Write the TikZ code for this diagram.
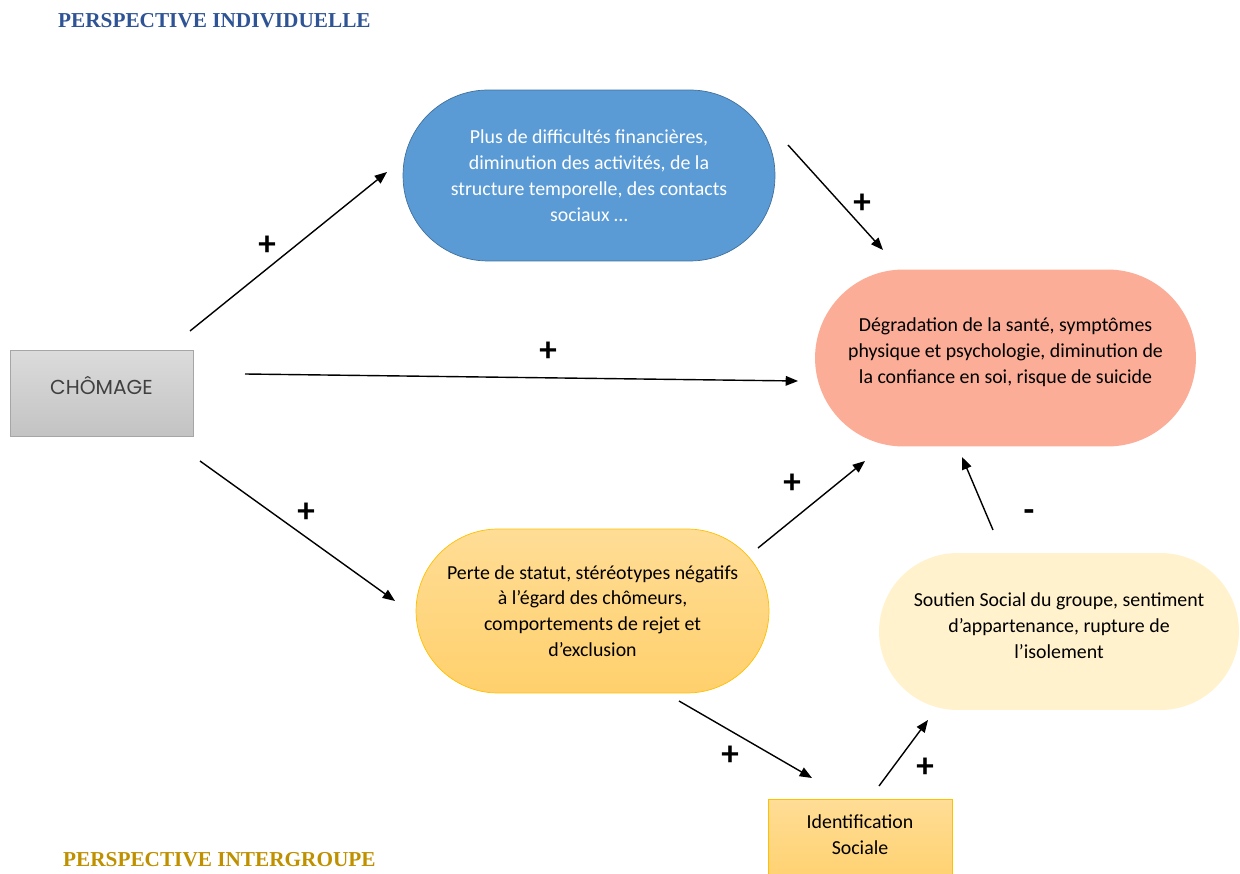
\documentclass[tikz,border=0pt]{standalone}
\usepackage{fontspec}
\setmainfont{Carlito}
\newfontfamily\titlefont{Liberation Serif}
\newfontfamily\boxfont{Poppins}
\usetikzlibrary{arrows.meta}
\definecolor{bleuind}{HTML}{2F5496}
\definecolor{orint}{HTML}{BF9000}
\definecolor{bluefill}{HTML}{5B9BD5}
\definecolor{blueline}{HTML}{41719C}
\definecolor{salmon}{HTML}{FBAD97}
\definecolor{orangetop}{HTML}{FFDD96}
\definecolor{orangebot}{HTML}{FFD06C}
\definecolor{orangeline}{HTML}{FFC000}
\definecolor{creme}{HTML}{FFF2CC}
\begin{document}
\begin{tikzpicture}[x=0.02cm,y=-0.02cm,
    fleche/.style={-{Triangle[length=7pt,width=5.5pt]}, line width=0.8pt},
    signe/.style={font=\bfseries\fontsize{20}{24}\selectfont},
    pilule/.style={align=center, font=\fontsize{11.3}{14.7}\selectfont}]
    \useasboundingbox (0,0) rectangle (1240,874);

    \node[anchor=west, text=bleuind, font=\titlefont\bfseries\fontsize{12.1}{14}\selectfont] (titreind) at (52,21) {PERSPECTIVE INDIVIDUELLE};
    \node[anchor=west, text=orint, font=\titlefont\bfseries\fontsize{12.1}{14}\selectfont] (titreint) at (57,860) {PERSPECTIVE INTERGROUPE};

    \node[draw=gray!70, top color=gray!28, bottom color=gray!47, minimum width=3.66cm, minimum height=1.72cm] (chomage) at (101.5,393) {};
    \node[text=black!75, font=\boxfont\fontsize{11.5}{14}\selectfont] (chomagetxt) at (101.5,386) {CHÔMAGE};

    \node[pilule, draw=blueline, fill=bluefill, text=white, rounded corners=1.7cm,
        minimum width=7.44cm, minimum height=3.42cm] (diff) at (589,175.5)
        {Plus de difficultés financières,\\ diminution des activités, de la\\ structure temporelle, des contacts\\ sociaux …};

    \node[fill=salmon, rounded corners=1.77cm,
        minimum width=7.62cm, minimum height=3.54cm] (sante) at (1005.5,358) {};
    \node[pilule] (santetxt) at (1005.5,352)
        {Dégradation de la santé, symptômes\\ physique et psychologie, diminution de\\ la confiance en soi, risque de suicide};

    \node[pilule, draw=orangeline, top color=orangetop, bottom color=orangebot, rounded corners=1.64cm,
        minimum width=7.06cm, minimum height=3.28cm] (statut) at (592.5,611)
        {Perte de statut, stéréotypes négatifs\\ à l’égard des chômeurs,\\ comportements de rejet et\\ d’exclusion};

    \node[fill=creme, rounded corners=1.57cm,
        minimum width=7.2cm, minimum height=3.14cm] (soutien) at (1059,631.5) {};
    \node[pilule] (soutientxt) at (1059,625.5)
        {Soutien Social du groupe, sentiment\\ d’appartenance, rupture de\\ l’isolement};

    \node[draw=orangeline, top color=orangetop, bottom color=orangebot, anchor=north,
        minimum width=3.68cm, minimum height=1.8cm] (ident) at (860,799) {};
    \node[pilule] (identtxt) at (860,835) {Identification\\ Sociale};

    \coordinate (c1a) at (190,331);  \coordinate (c1b) at (387,172);
    \coordinate (c2a) at (788,145);  \coordinate (c2b) at (883,250);
    \coordinate (c3a) at (245,374);  \coordinate (c3b) at (798,381);
    \coordinate (c4a) at (200,461);  \coordinate (c4b) at (395,601);
    \coordinate (c5a) at (758,548);  \coordinate (c5b) at (865,461);
    \coordinate (c6a) at (993,530);  \coordinate (c6b) at (962,457);
    \coordinate (c7a) at (679,701);  \coordinate (c7b) at (812,778);
    \coordinate (c8a) at (879,786);  \coordinate (c8b) at (928,720);

    \draw[fleche] (c1a) -- (c1b);
    \draw[fleche] (c2a) -- (c2b);
    \draw[fleche] (c3a) -- (c3b);
    \draw[fleche] (c4a) -- (c4b);
    \draw[fleche] (c5a) -- (c5b);
    \draw[fleche] (c6a) -- (c6b);
    \draw[fleche] (c7a) -- (c7b);
    \draw[fleche] (c8a) -- (c8b);

    \node[signe] (p1) at (267,246) {+};
    \node[signe] (p2) at (862,204) {+};
    \node[signe] (p3) at (548,352) {+};
    \node[signe] (p4) at (306,513) {+};
    \node[signe] (p5) at (792,484) {+};
    \node[signe] (m6) at (1029,516) {-};
    \node[signe] (p7) at (730,756) {+};
    \node[signe] (p8) at (925,768) {+};
\end{tikzpicture}
\end{document}
